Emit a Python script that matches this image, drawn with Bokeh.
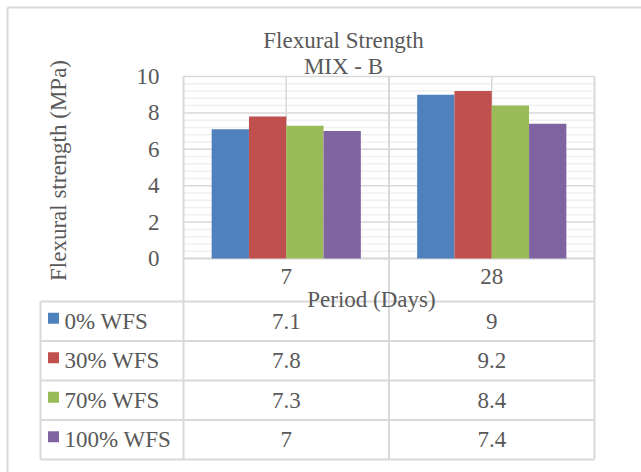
from bokeh.plotting import figure
from bokeh.models import Range1d, LinearAxis, FixedTicker, Label
from bokeh.embed import file_html
from bokeh.resources import INLINE
from bokeh.core.properties import value
import numpy as np

# ---------------- data ----------------
periods = ["7", "28"]
series = ["0% WFS", "30% WFS", "70% WFS", "100% WFS"]
wfs_0 = [7.1, 9.0]
wfs_30 = [7.8, 9.2]
wfs_70 = [7.3, 8.4]
wfs_100 = [7.0, 7.4]
y_ticks = [0, 2, 4, 6, 8, 10]
title_lines = ["Flexural Strength", "MIX - B"]
y_title = "Flexural strength (MPa)"
x_title = "Period (Days)"

values = [wfs_0, wfs_30, wfs_70, wfs_100]
colors = ["#4F81BD", "#C0504D", "#9BBB59", "#8064A2"]

# ---------------- style ----------------
FONT = "Liberation Serif"
TXT = "#595959"
GRID = "#D9D9D9"
MINOR = "#F0F0F0"
FS = "23px"
FS_T = "23px"

W, H = 641, 472
PX_X0, PX_UX = 183, 205.5   # pixel of x=0, pixels per category
PX_Y0, PX_UY = 258, 18.2    # pixel of y=0, pixels per MPa


def dx(px):
    return (px - PX_X0) / PX_UX


def dy(py):
    return (PX_Y0 - py) / PX_UY


p = figure(width=W, height=H,
           x_range=Range1d(dx(0), dx(W)), y_range=Range1d(dy(H), dy(0)),
           x_axis_type=None, y_axis_type=None,
           toolbar_location=None, output_backend="svg",
           min_border=0, outline_line_color=None,
           background_fill_color="white", border_fill_color="white")

n_cat = len(periods)
y_max = y_ticks[-1]

# table geometry
tab_top = dy(301)
row_h = 39.5 / PX_UY
tab_left = dx(40)
n_rows = len(series)
tab_bottom = tab_top - n_rows * row_h
row_centers = [tab_top - (k + 0.5) * row_h for k in range(n_rows)]

# outer chart border (left + top)
p.segment(x0=[dx(7), dx(7)], y0=[dy(7), dy(7)], x1=[dx(7), dx(W)], y1=[dy(H), dy(7)],
          line_color=GRID, line_width=2)

# minor gridlines
minor = [round(k * 0.4, 1) for k in range(1, 25) if k % 5 != 0]
p.segment(x0=0, x1=n_cat, y0=minor, y1=minor, line_color=MINOR, line_width=1.5)
# major gridlines
p.segment(x0=0, x1=n_cat, y0=y_ticks, y1=y_ticks, line_color=GRID, line_width=1.5)
# vertical lines at category centres (plot area only)
cc = [i + 0.5 for i in range(n_cat)]
p.segment(x0=cc, x1=cc, y0=0, y1=y_max, line_color=GRID, line_width=1.5)
# vertical boundaries through plot and table
bx = list(range(n_cat + 1))
p.segment(x0=bx, x1=bx, y0=tab_bottom, y1=y_max, line_color=GRID, line_width=2)
# axis line at 0
p.segment(x0=0, x1=n_cat, y0=0, y1=0, line_color=GRID, line_width=2)

# bars
bw = 0.1815
for i, (name, vals) in enumerate(zip(series, values)):
    xs = np.arange(n_cat) + 0.5 + (i - (len(series) - 1) / 2) * bw
    p.vbar(x=xs, top=vals, bottom=0, width=bw, fill_color=colors[i], line_color=None)

# table lines
hy = [tab_top - k * row_h for k in range(n_rows + 1)]
p.segment(x0=tab_left, x1=n_cat, y0=hy, y1=hy, line_color=GRID, line_width=2)
p.segment(x0=tab_left, x1=tab_left, y0=tab_bottom, y1=tab_top, line_color=GRID, line_width=2)

# legend keys
p.scatter(x=dx(53), y=[r + 3 / PX_UY for r in row_centers], marker="square", size=11,
          fill_color=colors, line_color=None)
# series names
p.text(x=dx(64), y=row_centers, text=series, text_align="left", text_baseline="middle",
       text_font=value(FONT), text_font_size=value(FS), text_color=TXT)
# values
tx, ty, tt = [], [], []
for i, vals in enumerate(values):
    for j, v in enumerate(vals):
        tx.append(j + 0.5)
        ty.append(row_centers[i])
        tt.append(f"{v:g}")
p.text(x=tx, y=ty, text=tt, text_align="center", text_baseline="middle",
       text_font=value(FONT), text_font_size=value(FS), text_color=TXT)

# title
for k, t in enumerate(title_lines):
    p.add_layout(Label(x=dx(343), y=dy(40 + 26 * k), text=t, text_align="center",
                       text_baseline="middle", text_font=FONT, text_font_size=FS_T,
                       text_color=TXT))

# axes
common = dict(axis_line_color=None, major_tick_line_color=None, minor_tick_line_color=None,
              major_tick_in=0, major_tick_out=0, minor_tick_in=0, minor_tick_out=0,
              major_label_text_font=FONT, major_label_text_font_size=FS,
              major_label_text_color=TXT,
              axis_label_text_font=FONT, axis_label_text_font_size=FS,
              axis_label_text_font_style="normal", axis_label_text_color=TXT)

yaxis = LinearAxis(fixed_location=0, bounds=(-0.33, y_max), ticker=FixedTicker(ticks=y_ticks),
                   major_label_standoff=24, axis_label=y_title, axis_label_standoff=63, **common)
p.add_layout(yaxis, "left")

xaxis = LinearAxis(fixed_location=0, bounds=(0, 1.83), ticker=FixedTicker(ticks=cc),
                   major_label_overrides={c: lab for c, lab in zip(cc, periods)},
                   major_label_standoff=10, axis_label=x_title, axis_label_standoff=0, **common)
p.add_layout(xaxis, "below")

open("out.html", "w").write(file_html(p, INLINE))
